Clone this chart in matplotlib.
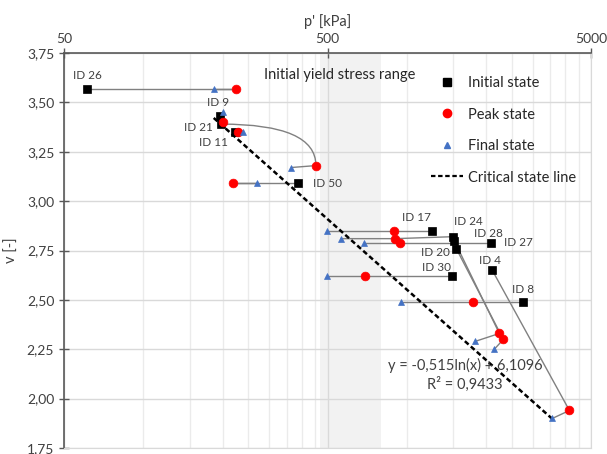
import numpy as np
import matplotlib
matplotlib.use("Agg")
import matplotlib.pyplot as plt
from matplotlib.path import Path
from matplotlib.patches import PathPatch
from matplotlib.ticker import FixedLocator, NullFormatter
from matplotlib.lines import Line2D

plt.rcParams['font.family'] = ['Lato', 'DejaVu Sans']

# test data
ids = ['ID 26', 'ID 9', 'ID 21', 'ID 11', 'ID 50', 'ID 17', 'ID 24',
       'ID 28', 'ID 27', 'ID 20', 'ID 30', 'ID 4', 'ID 8']
p_init = [61, 195, 198, 222, 386, 1248, 1500, 1513, 2090, 1540, 1487, 2110, 2768]
v_init = [3.57, 3.43, 3.39, 3.35, 3.09, 2.85, 2.82, 2.80, 2.79, 2.76, 2.62, 2.65, 2.49]
p_peak = [224, 200, 452, 228, 218, 895, 903, 2245, 943, 2325, 694, 4141, 1788]
v_peak = [3.57, 3.40, 3.18, 3.35, 3.09, 2.85, 2.81, 2.33, 2.79, 2.30, 2.62, 1.94, 2.49]
p_final = [185, 200, 363, 238, 270, 498, 563, 1819, 688, 2148, 498, 3570, 952]
v_final = [3.57, 3.45, 3.17, 3.35, 3.09, 2.85, 2.81, 2.29, 2.79, 2.25, 2.62, 1.90, 2.49]

# critical state line (trendline shown on chart)
csl_a = -0.515
csl_b = 6.1096
csl_r2 = 0.9433

yield_range = (470, 800)

y_ticks = [1.75, 2.00, 2.25, 2.50, 2.75, 3.00, 3.25, 3.50, 3.75]
x_ticks = [50, 500, 5000]

# label offsets in pixels from the initial point
label_off = [(1, 13), (-2, 14), (-23, -3), (-21, -11), (30, 0), (-16, 13), (15, 15),
             (34, 7), (27, 0), (-21, -4), (-16, 9), (-2, 10), (0, 12)]
arc_ids = ['ID 21']

fig = plt.figure(figsize=(6.07, 4.54), dpi=100)
ax = fig.add_axes([64 / 607, 6 / 454, 527 / 607, 395 / 454])

ax.set_xscale('log')
ax.set_xlim(50, 5000)
ax.set_ylim(1.75, 3.75)

ax.xaxis.tick_top()
ax.xaxis.set_label_position('top')
ax.xaxis.set_major_locator(FixedLocator(x_ticks))
ax.set_xticklabels([str(t) for t in x_ticks])
minors = [50 * k for k in range(2, 10)] + [500 * k for k in range(2, 10)]
ax.xaxis.set_minor_locator(FixedLocator(minors))
ax.xaxis.set_minor_formatter(NullFormatter())
ax.set_yticks(y_ticks)
ax.set_yticklabels([f"{t:.2f}".replace('.', ',') for t in y_ticks])

ax.tick_params(axis='both', which='major', direction='inout', length=7, width=1,
               color='#595959', labelsize=10, labelcolor='#404040')
ax.tick_params(axis='x', which='minor', length=0)
ax.tick_params(axis='x', pad=2)

ax.grid(True, which='major', color='#D9D9D9', lw=1)
ax.grid(True, which='minor', axis='x', color='#EBEBEB', lw=1)
ax.set_axisbelow(True)

for s in ['top', 'left']:
    ax.spines[s].set_color('#595959')
    ax.spines[s].set_linewidth(1.2)
for s in ['bottom', 'right']:
    ax.spines[s].set_color('#D9D9D9')

ax.axvspan(yield_range[0], yield_range[1], color='#F2F2F2', zorder=0, lw=0)
ax.text(558, 3.64, 'Initial yield stress range', ha='center', va='center',
        fontsize=10.5, color='#262626')

ax.set_xlabel("p' [kPa]", fontsize=10.5, color='#404040', labelpad=5)
ax.set_ylabel("v [-]", fontsize=10.5, color='#404040', labelpad=6)

# connectors
to_axes = ax.transData + ax.transAxes.inverted()
for i, name in enumerate(ids):
    if name in arc_ids:
        a = to_axes.transform((p_init[i], v_init[i]))
        b = to_axes.transform((p_peak[i], v_peak[i]))
        c = to_axes.transform((p_final[i], v_final[i]))
        path = Path([a, (b[0], a[1]), b, c],
                    [Path.MOVETO, Path.CURVE3, Path.CURVE3, Path.LINETO])
        ax.add_patch(PathPatch(path, transform=ax.transAxes, fc='none',
                               ec='#808080', lw=1, zorder=2))
    else:
        ax.plot([p_init[i], p_peak[i], p_final[i]], [v_init[i], v_peak[i], v_final[i]],
                color='#808080', lw=1, zorder=2)

# critical state line
p_csl = np.array([min(p_final), max(p_final)])
ax.plot(p_csl, csl_a * np.log(p_csl) + csl_b, color='black', lw=1.8,
        ls=(0, (2, 1.2)), zorder=3)

ax.plot(p_init, v_init, 's', color='black', ms=5.6, mew=0.5, ls='none', zorder=4)
ax.plot(p_peak, v_peak, 'o', color='#FF0000', ms=6.3, mew=0.5, ls='none', zorder=5)
ax.plot(p_final, v_final, '^', color='#4472C4', ms=5, mew=0.5, ls='none', zorder=6)

for i, name in enumerate(ids):
    ax.annotate(name, (p_init[i], v_init[i]), xytext=label_off[i],
                textcoords='offset pixels', ha='center', va='center',
                fontsize=8.5, color='#404040', zorder=7)

ax.text(1667, 2.12, f"y = {csl_a}ln(x) + {csl_b}".replace('.', ',') + "\n"
        + f"R² = {csl_r2}".replace('.', ','), ha='center', va='center',
        fontsize=10.5, color='#404040', linespacing=1.25)

handles = [
    Line2D([], [], marker='s', color='black', ls='none', ms=5.5),
    Line2D([], [], marker='o', color='#FF0000', ls='none', ms=6),
    Line2D([], [], marker='^', color='#4472C4', ls='none', ms=5),
    Line2D([], [], color='black', lw=1.6, ls=(0, (2, 1.2))),
]
ax.legend(handles, ['Initial state', 'Peak state', 'Final state', 'Critical state line'],
          loc='upper left', bbox_to_anchor=(0.672, 0.975), frameon=False,
          fontsize=10.5, labelspacing=1.2, handlelength=2.2, handletextpad=0.3,
          labelcolor='#262626')

fig.savefig('out.png', dpi=100)
